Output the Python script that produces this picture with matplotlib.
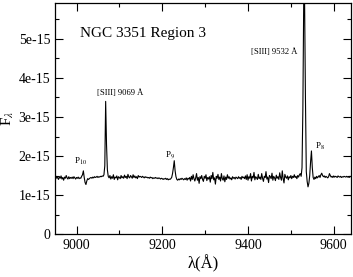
import numpy as np
import matplotlib
matplotlib.use("Agg")
import matplotlib.pyplot as plt
from matplotlib.ticker import MultipleLocator

plt.rcParams['font.family'] = ['Liberation Serif', 'DejaVu Serif']
plt.rcParams['mathtext.fontset'] = 'stix'

# spectrum sampled every 2 A starting at 8950 A (flux in units of 1e-15)
# one row = 40 A
lam_start = 8950
lam_step = 2
flux = [
    1.46, 1.42, 1.48, 1.44, 1.40, 1.47, 1.43, 1.49, 1.41, 1.45, 1.38, 1.46, 1.43, 1.50, 1.44, 1.41, 1.47, 1.42, 1.45, 1.43,  # 8950
    1.46, 1.42, 1.47, 1.44, 1.41, 1.45, 1.43, 1.46, 1.42, 1.44, 1.43, 1.48, 1.52, 1.62, 1.45, 1.32, 1.27, 1.36, 1.42, 1.40,  # 8990
    1.42, 1.44, 1.45, 1.43, 1.46, 1.44, 1.47, 1.45, 1.46, 1.48, 1.45, 1.47, 1.46, 1.48, 1.47, 1.49, 1.48, 1.52, 1.75, 3.40,  # 9030
    2.30, 1.65, 1.48, 1.44, 1.50, 1.41, 1.47, 1.43, 1.52, 1.40, 1.46, 1.44, 1.49, 1.39, 1.47, 1.45, 1.42, 1.50, 1.44, 1.47,  # 9070
    1.43, 1.51, 1.45, 1.48, 1.42, 1.53, 1.46, 1.44, 1.50, 1.47, 1.43, 1.52, 1.45, 1.49, 1.44, 1.47, 1.42, 1.50, 1.46, 1.48,  # 9110
    1.47, 1.45, 1.48, 1.46, 1.44, 1.47, 1.45, 1.46, 1.44, 1.45, 1.43, 1.46, 1.44, 1.45, 1.42, 1.44, 1.43, 1.45, 1.43, 1.44,  # 9150
    1.42, 1.44, 1.43, 1.41, 1.43, 1.42, 1.40, 1.42, 1.41, 1.43, 1.40, 1.42, 1.39, 1.41, 1.40, 1.42, 1.45, 1.55, 1.70, 1.88,  # 9190
    1.62, 1.47, 1.40, 1.38, 1.41, 1.39, 1.42, 1.40, 1.43, 1.41, 1.39, 1.42, 1.40, 1.44, 1.38, 1.43, 1.41, 1.45, 1.36, 1.48,  # 9230
    1.40, 1.52, 1.42, 1.36, 1.44, 1.55, 1.38, 1.45, 1.30, 1.47, 1.42, 1.50, 1.40, 1.35, 1.48, 1.43, 1.52, 1.37, 1.45, 1.41,  # 9270
    1.47, 1.33, 1.50, 1.42, 1.58, 1.39, 1.44, 1.28, 1.48, 1.43, 1.53, 1.40, 1.46, 1.36, 1.55, 1.42, 1.38, 1.49, 1.34, 1.46,  # 9310
    1.40, 1.52, 1.43, 1.47, 1.41, 1.44, 1.39, 1.47, 1.43, 1.45, 1.41, 1.46, 1.44, 1.42, 1.47, 1.43, 1.45, 1.40, 1.48, 1.44,  # 9350
    1.46, 1.42, 1.49, 1.40, 1.52, 1.38, 1.47, 1.43, 1.55, 1.36, 1.48, 1.44, 1.58, 1.39, 1.47, 1.44, 1.40, 1.53, 1.42, 1.46,  # 9390
    1.40, 1.55, 1.43, 1.35, 1.48, 1.45, 1.60, 1.41, 1.46, 1.32, 1.50, 1.47, 1.42, 1.56, 1.38, 1.48, 1.44, 1.37, 1.51, 1.43,  # 9430
    1.47, 1.40, 1.57, 1.45, 1.38, 1.62, 1.42, 1.31, 1.53, 1.46, 1.43, 1.49, 1.39, 1.47, 1.44, 1.50, 1.42, 1.48, 1.45, 1.52,  # 9470
    1.45, 1.48, 1.42, 1.50, 1.46, 1.52, 1.55, 1.48, 1.70, 3.20, 6.00, 6.00, 3.50, 1.60, 1.35, 1.21, 1.30, 1.50, 1.85, 2.13,  # 9510
    1.70, 1.45, 1.40, 1.46, 1.42, 1.48, 1.44, 1.47, 1.50, 1.45, 1.52, 1.56, 1.50, 1.47, 1.49, 1.45, 1.48, 1.46, 1.44, 1.47,  # 9550
    1.55, 1.50, 1.46, 1.48, 1.45, 1.49, 1.46, 1.48, 1.47, 1.45, 1.49, 1.47, 1.46, 1.48, 1.45, 1.47, 1.46, 1.48, 1.47, 1.46,  # 9590
    1.48, 1.46, 1.47, 1.45, 1.48, 1.47,  # 9630
]
flux = np.array(flux) * 1e-15
lam = lam_start + lam_step * np.arange(len(flux))

ytick_vals = [0, 1e-15, 2e-15, 3e-15, 4e-15, 5e-15]
ytick_labels = ['0', '1e-15', '2e-15', '3e-15', '4e-15', '5e-15']
xtick_vals = [9000, 9200, 9400, 9600]

fig = plt.figure(figsize=(3.53, 2.77), dpi=100)
ax = fig.add_axes([0.156, 0.155, 0.838, 0.834])
ax.plot(lam, flux, color='black', lw=0.8)

ax.set_xlim(8950, 9640)
ax.set_ylim(0, 5.92e-15)
ax.set_xticks(xtick_vals)
ax.set_yticks(ytick_vals, ytick_labels)
ax.xaxis.set_minor_locator(MultipleLocator(100))
ax.yaxis.set_minor_locator(MultipleLocator(0.5e-15))
ax.tick_params(which='both', direction='in', top=True, right=True, labelsize=10, width=0.8)
ax.tick_params(which='major', length=6)
ax.tick_params(which='minor', length=3)
for s in ax.spines.values():
    s.set_linewidth(0.9)

ax.set_xlabel('λ(Å)', fontsize=12, labelpad=2)
ax.set_ylabel(r'F$_\lambda$', fontsize=11, labelpad=2)

ax.text(0.085, 0.87, 'NGC 3351 Region 3', transform=ax.transAxes, fontsize=11, va='center')
ax.text(9047, 3.62e-15, '[SIII] 9069 Å', fontsize=6.2, va='center')
ax.text(9408, 4.67e-15, '[SIII] 9532 Å', fontsize=6.2, va='center')
ax.text(8994, 1.85e-15, r'P$_{10}$', fontsize=6.5, va='center')
ax.text(9206, 2.03e-15, r'P$_{9}$', fontsize=6.5, va='center')
ax.text(9557, 2.24e-15, r'P$_{8}$', fontsize=6.5, va='center')

plt.savefig('out.png', dpi=100)
